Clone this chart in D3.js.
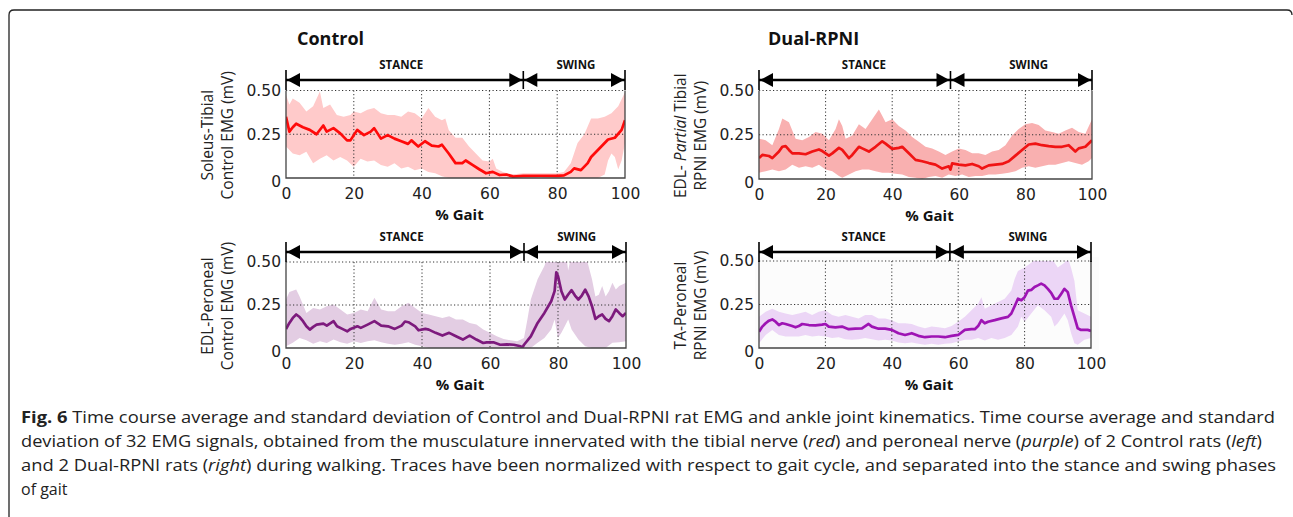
<!DOCTYPE html>
<html lang="en">
<head>
<meta charset="UTF-8">
<title>Control vs Dual-RPNI EMG time course</title>
<script src="https://d3js.org/d3.v7.min.js"></script>
<style>
  body { margin: 0; background: #fff; }
  svg { display: block; }
  .title { font-family: "Open Sans", sans-serif; font-weight: 700; font-size: 18px; fill: #111; }
  .phase { font-family: "Open Sans", sans-serif; font-weight: 700; font-size: 11.5px; fill: #111; }
  .xlabel { font-family: "Open Sans", sans-serif; font-weight: 700; font-size: 15px; fill: #111; }
  .ylabel { font-family: "Open Sans", sans-serif; font-size: 15.5px; fill: #222; }
  .caption { font-family: "Open Sans", sans-serif; font-size: 16px; fill: #222; }
</style>
</head>
<body>
<svg id="fig" width="1293" height="517"></svg>
<script>
// ---- data ----
const gaitTicks = [0, 20, 40, 60, 80, 100];
const emgTicks = [0, 0.25, 0.5];
const gridX = [20, 40, 60, 80];
const gridY = [0.25];

// Soleus-Tibial, Control  [% gait, mV]
const soleusMean = [[0,0.35],[1,0.265],[2,0.29],[3,0.31],[5,0.29],[7,0.275],[9,0.25],[11,0.3],[12,0.265],[14,0.285],[16,0.255],[18,0.215],[19,0.215],[21,0.275],[23,0.245],[25,0.265],[26,0.285],[28,0.225],[30,0.245],[32,0.225],[34,0.21],[36,0.195],[37,0.215],[39,0.18],[41,0.21],[43,0.185],[45,0.18],[46,0.19],[48,0.14],[50,0.085],[52,0.085],[53,0.1],[55,0.075],[57,0.05],[59,0.027],[61,0.035],[63,0.017],[65,0.02],[67,0.008],[70,0.012],[75,0.013],[80,0.012],[82,0.015],[84,0.035],[85,0.055],[87,0.045],[89,0.085],[90,0.12],[91,0.14],[93,0.18],[95,0.22],[97,0.23],[99,0.275],[100,0.33]];
const soleusUpper = [[0,0.475],[1,0.42],[2,0.455],[4,0.43],[6,0.38],[8,0.41],[10,0.495],[11,0.4],[13,0.42],[15,0.36],[17,0.35],[19,0.36],[20,0.38],[22,0.37],[24,0.39],[26,0.4],[28,0.37],[30,0.36],[32,0.36],[34,0.35],[36,0.38],[38,0.37],[40,0.34],[42,0.4],[44,0.35],[46,0.33],[47,0.34],[48,0.275],[50,0.23],[52,0.23],[54,0.18],[56,0.14],[58,0.1],[60,0.095],[61,0.11],[62,0.055],[64,0.035],[66,0.023],[68,0.023],[70,0.027],[75,0.027],[80,0.027],[82,0.035],[84,0.085],[86,0.2],[88,0.25],[90,0.34],[92,0.34],[94,0.35],[96,0.37],[98,0.41],[100,0.49]];
const soleusLower = [[0,0.18],[2,0.14],[4,0.13],[6,0.15],[8,0.085],[10,0.11],[12,0.13],[14,0.1],[16,0.12],[18,0.1],[20,0.065],[22,0.11],[24,0.095],[26,0.1],[28,0.075],[30,0.065],[32,0.085],[34,0.055],[36,0.065],[38,0.045],[40,0.055],[42,0.035],[44,0.027],[46,0.01],[48,0],[92,0],[94,0.02],[95,0.1],[96,0.14],[97,0.12],[98,0.05],[99,0.1],[100,0.2]];

// EDL-Partial Tibial, Dual-RPNI
const edlTibMean = [[0,0.118],[1,0.136],[3,0.13],[4,0.118],[6,0.155],[7,0.182],[8,0.186],[9,0.164],[10,0.145],[12,0.145],[14,0.14],[16,0.155],[18,0.167],[19,0.158],[21,0.132],[22,0.145],[24,0.176],[25,0.164],[27,0.118],[28,0.136],[30,0.182],[31,0.173],[33,0.155],[35,0.182],[37,0.213],[38,0.2],[40,0.17],[42,0.176],[43,0.182],[45,0.145],[47,0.108],[49,0.1],[51,0.09],[53,0.081],[55,0.059],[57,0.072],[57.5,0.053],[58,0.088],[60,0.081],[62,0.077],[64,0.085],[66,0.072],[67,0.059],[69,0.077],[71,0.081],[73,0.085],[75,0.1],[77,0.132],[79,0.164],[81,0.195],[83,0.2],[85,0.191],[87,0.186],[89,0.182],[91,0.182],[93,0.191],[95,0.155],[96,0.173],[98,0.182],[100,0.219]];
const edlTibUpper = [[0,0.228],[2,0.219],[4,0.19],[6,0.283],[7,0.342],[9,0.32],[11,0.228],[13,0.219],[15,0.237],[17,0.265],[19,0.255],[21,0.219],[23,0.283],[24,0.338],[25,0.3],[26,0.228],[28,0.246],[30,0.31],[32,0.283],[34,0.338],[36,0.393],[37,0.357],[38,0.32],[40,0.338],[42,0.3],[44,0.274],[46,0.237],[48,0.21],[50,0.182],[52,0.173],[54,0.155],[56,0.136],[58,0.155],[60,0.173],[62,0.164],[64,0.145],[66,0.145],[68,0.136],[70,0.155],[72,0.164],[74,0.19],[76,0.246],[78,0.283],[80,0.31],[82,0.316],[84,0.305],[86,0.274],[88,0.265],[90,0.255],[92,0.274],[94,0.29],[96,0.265],[98,0.255],[100,0.338]];
const edlTibLower = [[0,0.035],[2,0.044],[4,0.053],[6,0.044],[8,0.053],[10,0.081],[12,0.063],[14,0.072],[16,0.063],[18,0.081],[20,0.053],[22,0.044],[24,0.017],[25,0.007],[27,0.026],[29,0.044],[31,0.053],[33,0.053],[35,0.044],[37,0.035],[39,0.035],[41,0.029],[43,0.026],[45,0.011],[47,0.007],[49,0],[51,0.011],[53,0.017],[55,0.007],[57,0.026],[59,0.017],[61,0.026],[63,0.011],[65,0.017],[67,0.017],[69,0.026],[71,0.026],[73,0.029],[75,0.035],[77,0.044],[79,0.063],[81,0.072],[83,0.063],[85,0.072],[87,0.081],[89,0.081],[91,0.09],[93,0.1],[95,0.09],[97,0.081],[99,0.1],[100,0.118]];

// EDL-Peroneal, Control
const edlPerMean = [[0,0.11],[1,0.146],[2,0.175],[3,0.195],[4,0.18],[5,0.156],[6,0.126],[7,0.107],[8,0.123],[9,0.136],[11,0.142],[12,0.13],[14,0.156],[15,0.126],[17,0.107],[18,0.097],[19,0.111],[21,0.126],[22,0.117],[24,0.136],[26,0.156],[28,0.13],[30,0.126],[32,0.111],[34,0.13],[35,0.154],[36,0.15],[38,0.126],[39,0.103],[41,0.111],[42,0.107],[44,0.088],[46,0.072],[48,0.088],[50,0.068],[52,0.049],[54,0.072],[56,0.049],[58,0.029],[59,0.033],[61,0.033],[63,0.019],[65,0.021],[67,0.019],[69,0.01],[69.5,0.002],[70,0.019],[72,0.068],[74,0.146],[76,0.204],[78,0.272],[79,0.331],[79.5,0.44],[80,0.418],[81,0.33],[82,0.282],[83,0.311],[84,0.336],[85,0.305],[86,0.282],[87,0.305],[88,0.339],[89,0.3],[90,0.243],[91,0.169],[92,0.185],[93,0.195],[94,0.169],[95,0.156],[96,0.185],[97,0.224],[98,0.204],[99,0.185],[100,0.204]];
const edlPerUpper = [[0,0.282],[1,0.325],[3,0.34],[4,0.3],[6,0.204],[8,0.233],[10,0.224],[12,0.243],[14,0.253],[16,0.224],[18,0.195],[20,0.204],[22,0.224],[24,0.214],[26,0.292],[28,0.224],[30,0.214],[32,0.214],[34,0.243],[36,0.263],[38,0.233],[40,0.204],[42,0.195],[44,0.185],[46,0.175],[48,0.185],[50,0.165],[52,0.165],[54,0.146],[56,0.136],[58,0.107],[60,0.088],[62,0.068],[64,0.053],[66,0.045],[68,0.039],[70,0.058],[71,0.165],[72,0.282],[74,0.4],[76,0.477],[78,0.6],[80,0.7],[82,0.6],[83,0.45],[84,0.55],[86,0.65],[88,0.55],[90,0.4],[91,0.3],[92,0.31],[93,0.36],[94,0.3],[95,0.33],[96,0.38],[97,0.34],[98,0.36],[100,0.38]];
const edlPerLower = [[0,0.01],[2,0.03],[4,0.058],[6,0.045],[8,0.025],[10,0.039],[12,0.029],[14,0.049],[16,0.033],[18,0.025],[20,0.039],[22,0.029],[24,0.039],[26,0.045],[28,0.033],[30,0.025],[32,0.019],[34,0.025],[36,0.033],[38,0.019],[40,0.01],[42,0],[72,0],[74,0.03],[76,0.058],[78,0.107],[79,0.165],[80,0.058],[81,0.088],[82,0.126],[83,0.165],[84,0.107],[86,0.049],[88,0.01],[90,0],[94,0],[96,0.03],[98,0.033],[100,0.039]];

// TA-Peroneal, Dual-RPNI
const taPerMean = [[0,0.094],[1,0.123],[2,0.142],[3,0.157],[4,0.164],[5,0.151],[6,0.132],[7,0.142],[8,0.138],[10,0.126],[11,0.119],[12,0.126],[13,0.138],[15,0.132],[17,0.13],[19,0.134],[20,0.138],[21,0.123],[23,0.119],[25,0.123],[27,0.108],[29,0.111],[31,0.113],[33,0.138],[34,0.123],[36,0.111],[38,0.111],[40,0.104],[42,0.085],[44,0.075],[46,0.085],[48,0.07],[50,0.062],[52,0.066],[54,0.066],[56,0.062],[58,0.07],[60,0.075],[62,0.104],[64,0.108],[65,0.108],[66,0.126],[67,0.16],[68,0.142],[69,0.151],[71,0.16],[73,0.17],[75,0.179],[76,0.198],[77,0.24],[78,0.283],[79,0.274],[80,0.292],[81,0.33],[82,0.334],[83,0.351],[84,0.36],[85,0.37],[86,0.36],[87,0.34],[88,0.317],[89,0.283],[90,0.283],[91,0.311],[92,0.34],[93,0.321],[94,0.245],[95,0.179],[96,0.113],[97,0.104],[99,0.104],[100,0.098]];
const taPerUpper = [[0,0.179],[2,0.208],[4,0.226],[6,0.208],[8,0.198],[10,0.189],[12,0.198],[14,0.208],[16,0.189],[18,0.208],[20,0.217],[22,0.189],[24,0.179],[26,0.189],[28,0.179],[30,0.17],[32,0.189],[34,0.189],[36,0.17],[38,0.17],[40,0.16],[42,0.142],[44,0.142],[46,0.138],[48,0.123],[50,0.113],[52,0.123],[54,0.119],[56,0.113],[58,0.126],[60,0.151],[62,0.179],[64,0.217],[66,0.255],[67,0.292],[68,0.226],[70,0.245],[72,0.264],[74,0.283],[76,0.33],[77,0.396],[78,0.443],[80,0.462],[82,0.49],[84,0.52],[86,0.55],[88,0.52],[90,0.462],[92,0.49],[93,0.52],[94,0.46],[95,0.387],[96,0.217],[98,0.198],[100,0.179]];
const taPerLower = [[0,0.028],[2,0.075],[4,0.104],[6,0.075],[8,0.066],[10,0.066],[12,0.066],[14,0.075],[16,0.066],[18,0.07],[20,0.066],[22,0.057],[24,0.062],[26,0.051],[28,0.047],[30,0.051],[32,0.057],[34,0.051],[36,0.043],[38,0.047],[40,0.043],[42,0.032],[44,0.028],[46,0.032],[48,0.025],[50,0.019],[52,0.025],[54,0.019],[56,0.025],[58,0.028],[60,0.038],[62,0.047],[64,0.047],[66,0.057],[68,0.043],[70,0.057],[72,0.047],[74,0.057],[76,0.075],[78,0.123],[79,0.179],[80,0.151],[82,0.198],[84,0.245],[86,0.217],[88,0.179],[89,0.123],[90,0.142],[92,0.198],[93,0.16],[94,0.085],[95,0.028],[96,0.019],[98,0.047],[100,0.057]];

const captionLines = [
  [["Fig. 6", "b"], [" Time course average and standard deviation of Control and Dual-RPNI rat EMG and ankle joint kinematics. Time course average and standard", ""]],
  [["deviation of 32 EMG signals, obtained from the musculature innervated with the tibial nerve (", ""], ["red", "i"], [") and peroneal nerve (", ""], ["purple", "i"], [") of 2 Control rats (", ""], ["left", "i"], [")", ""]],
  [["and 2 Dual-RPNI rats (", ""], ["right", "i"], [") during walking. Traces have been normalized with respect to gait cycle, and separated into the stance and swing phases", ""]],
  [["of gait", ""]]
];

// ---- layout ----
const panels = [
  { title: "Control", titleX: 297, left: 286, right: 625, top: 90.5, bottom: 178, arrowY: 80,
    stanceEnd: 70, stanceLabel: 34, swingLabel: 85.5, ylab: ["Soleus-Tibial", "Control EMG (mV)"],
    mean: soleusMean, upper: soleusUpper, lower: soleusLower, line: "#ff0a0a", band: "#ffcaca" },
  { title: "Dual-RPNI", titleX: 768, left: 759, right: 1092, top: 90.5, bottom: 179, arrowY: 80,
    stanceEnd: 57.5, stanceLabel: 31.5, swingLabel: 81, ylab: [["EDL- ", ["Partial", "i"], " Tibial"], "RPNI EMG (mV)"],
    mean: edlTibMean, upper: edlTibUpper, lower: edlTibLower, line: "#f01414", band: "#f9b0b0" },
  { title: null, left: 286, right: 626, top: 262, bottom: 348, arrowY: 252,
    stanceEnd: 70, stanceLabel: 34, swingLabel: 85.5, ylab: ["EDL-Peroneal", "Control EMG (mV)"],
    mean: edlPerMean, upper: edlPerUpper, lower: edlPerLower, line: "#7d1a7d", band: "#e3cde3" },
  { title: null, left: 759, right: 1091, top: 261, bottom: 348, arrowY: 252, bg: "#fcfcfc",
    stanceEnd: 57.5, stanceLabel: 31.5, swingLabel: 81, ylab: ["TA-Peroneal", "RPNI EMG (mV)"],
    mean: taPerMean, upper: taPerUpper, lower: taPerLower, line: "#9e14b4", band: "#ecd6f6" }
];

const svg = d3.select("#fig");
svg.append("rect").attr("width", 1293).attr("height", 517).attr("fill", "#fff");

// outer frame (top and left edges visible)
svg.append("path")
  .attr("d", "M9,517 L9,15 Q9,10 14,10 L1287,10 Q1292,10 1292,15")
  .attr("fill", "none").attr("stroke", "#222").attr("stroke-width", 1.3);

panels.forEach((p, i) => drawPanel(p, i));

function drawPanel(p, i) {
  const x = d3.scaleLinear().domain([0, 100]).range([p.left, p.right]);
  const y = d3.scaleLinear().domain([0, 0.5]).range([p.bottom, p.top]);
  const g = svg.append("g");

  if (p.bg) {
    g.append("rect").attr("x", p.left - 4).attr("y", p.top - 4)
      .attr("width", p.right - p.left + 12).attr("height", p.bottom - p.top + 6)
      .attr("fill", p.bg);
  }

  const clipId = "clip" + i;
  g.append("clipPath").attr("id", clipId).append("rect")
    .attr("x", p.left).attr("y", p.top).attr("width", p.right - p.left).attr("height", p.bottom - p.top);

  const line = d3.line().x(d => x(d[0])).y(d => y(d[1]));

  // std band
  const bandPts = p.upper.concat(p.lower.slice().reverse());
  g.append("path").attr("d", line(bandPts) + "Z")
    .attr("fill", p.band).attr("clip-path", `url(#${clipId})`);

  // grid
  g.selectAll(".gx").data(gridX).join("line")
    .attr("x1", d => x(d)).attr("x2", d => x(d)).attr("y1", p.top).attr("y2", p.bottom)
    .attr("stroke", "#333").attr("stroke-width", 1).attr("stroke-dasharray", "1.2,2.3");
  g.selectAll(".gy").data(gridY.concat([0.5])).join("line")
    .attr("x1", p.left).attr("x2", p.right).attr("y1", d => y(d)).attr("y2", d => y(d))
    .attr("stroke", "#333").attr("stroke-width", 1).attr("stroke-dasharray", "1.2,2.3");

  // mean trace
  g.append("path").attr("d", line(p.mean))
    .attr("fill", "none").attr("stroke", p.line).attr("stroke-width", 2.7)
    .attr("stroke-linejoin", "round").attr("clip-path", `url(#${clipId})`);

  // frame (left, bottom, right solid)
  g.append("path")
    .attr("d", `M${p.left},${p.top} V${p.bottom} H${p.right} V${p.top}`)
    .attr("fill", "none").attr("stroke", "#444").attr("stroke-width", 1.3);

  // axes
  const xAxis = g.append("g").attr("transform", `translate(0,${p.bottom})`)
    .call(d3.axisBottom(x).tickValues(gaitTicks).tickSize(0).tickPadding(10));
  const yAxis = g.append("g").attr("transform", `translate(${p.left},0)`)
    .call(d3.axisLeft(y).tickValues(emgTicks).tickSize(0).tickPadding(5)
      .tickFormat(d => d === 0 ? "0" : d3.format(".2f")(d)));
  [xAxis, yAxis].forEach(a => {
    a.select(".domain").remove();
    a.attr("font-family", "'DejaVu Sans', sans-serif").attr("font-size", 15.5);
    a.selectAll("text").attr("fill", "#222");
  });
  yAxis.selectAll(".tick").filter(d => d === 0).select("text").attr("dy", "0.55em");

  g.append("text").attr("class", "xlabel")
    .attr("x", (p.left + p.right) / 2 + 4).attr("y", p.bottom + 42)
    .attr("text-anchor", "middle").text("% Gait");

  // y label (two lines, rotated)
  const cy = (p.top + p.bottom) / 2 + 1;
  p.ylab.forEach((lab, k) => {
    const t = g.append("text").attr("class", "ylabel")
      .attr("transform", `translate(${p.left - 79 + 20 * k},${cy}) rotate(-90)`)
      .attr("text-anchor", "middle").attr("dominant-baseline", "central");
    if (Array.isArray(lab)) {
      lab.forEach(part => {
        if (Array.isArray(part)) t.append("tspan").attr("font-style", "italic").text(part[0]);
        else t.append("tspan").text(part);
      });
    } else t.text(lab);
  });

  // stance / swing arrows
  const ay = p.arrowY, xs = x(p.stanceEnd), L = 13, H = 7;
  const ag = g.append("g").attr("fill", "#000").attr("stroke", "#000");
  ag.append("line").attr("x1", p.left).attr("x2", p.right).attr("y1", ay).attr("y2", ay)
    .attr("stroke-width", 2.6);
  [p.left, p.right].forEach(v => ag.append("line").attr("x1", v).attr("x2", v)
    .attr("y1", ay - 10).attr("y2", ay + 10).attr("stroke-width", 1.6));
  ag.append("line").attr("x1", xs).attr("x2", xs).attr("y1", ay - 9).attr("y2", ay + 9)
    .attr("stroke-width", 1.6);
  const heads = [[p.left + 1, 1], [xs - 1, -1], [xs + 1, 1], [p.right - 1, -1]];
  ag.selectAll("polygon").data(heads).join("polygon")
    .attr("stroke", "none")
    .attr("points", d => `${d[0]},${ay} ${d[0] + d[1] * L},${ay - H} ${d[0] + d[1] * L},${ay + H}`);

  g.append("text").attr("class", "phase").attr("x", x(p.stanceLabel)).attr("y", ay - 11)
    .attr("text-anchor", "middle").text("STANCE");
  g.append("text").attr("class", "phase").attr("x", x(p.swingLabel)).attr("y", ay - 11)
    .attr("text-anchor", "middle").text("SWING");

  if (p.title) {
    g.append("text").attr("class", "title").attr("x", p.titleX).attr("y", 45).text(p.title);
  }
}

// caption
const capWidths = [1254, 1241, 1255, null];
captionLines.forEach((parts, k) => {
  const t = svg.append("text").attr("class", "caption").attr("x", 21).attr("y", 423 + 24 * k);
  parts.forEach(([s, f]) => {
    const ts = t.append("tspan").text(s);
    if (f === "b") ts.attr("font-weight", 700);
    if (f === "i") ts.attr("font-style", "italic");
  });
  if (capWidths[k]) t.attr("textLength", capWidths[k]).attr("lengthAdjust", "spacingAndGlyphs");
});
</script>
</body>
</html>
